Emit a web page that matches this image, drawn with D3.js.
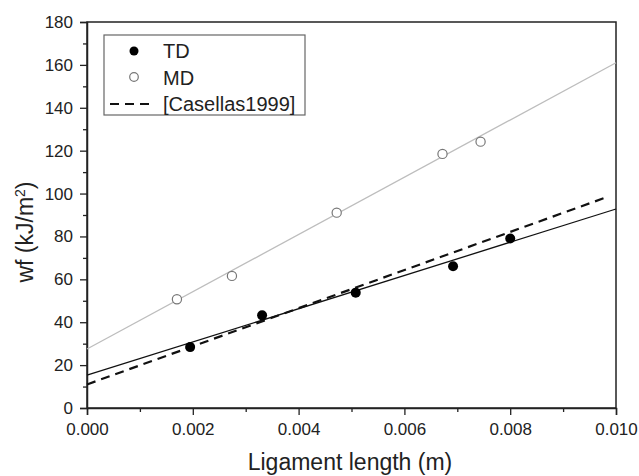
<!DOCTYPE html>
<html>
<head>
<meta charset="utf-8">
<script src="https://cdn.jsdelivr.net/npm/d3@7"></script>
<style>
  body { margin: 0; background: #fff; }
  text { font-family: "Liberation Sans", Arial, sans-serif; fill: #222; }
</style>
</head>
<body>
<div id="chart"></div>
<script>
const tdX = [0.00195, 0.00331, 0.00508, 0.00692, 0.00800];
const tdY = [28.4, 43.2, 53.8, 66.1, 79.0];
const mdX = [0.00170, 0.00274, 0.00472, 0.00672, 0.00744];
const mdY = [50.7, 61.6, 91.1, 118.5, 124.2];

// Fit lines (end points)
const fitTD = [[0, 15.3], [0.010, 92.8]];
const fitMD = [[0, 27.5], [0.010, 161.0]];
const casellas = [[0, 11.0], [0.0098, 98.1]];

const xTicks = [0, 0.002, 0.004, 0.006, 0.008, 0.010];
const yTicks = [0, 20, 40, 60, 80, 100, 120, 140, 160, 180];

const W = 639, H = 476;
const mLeft = 87, mRight = 616, mTop = 22, mBottom = 408;

var svg = d3.select('#chart').append('svg')
    .attr('width', W)
    .attr('height', H);

var x = d3.scaleLinear().domain([0, 0.010]).range([mLeft, mRight]);
var y = d3.scaleLinear().domain([0, 180]).range([mBottom, mTop]);

// Frame (top and right sides)
svg.append('rect')
    .attr('x', mLeft).attr('y', mTop)
    .attr('width', mRight - mLeft).attr('height', mBottom - mTop)
    .attr('fill', 'none')
    .attr('stroke', '#222')
    .attr('stroke-width', 1.5);

// Minor ticks
var xMinor = d3.range(0.001, 0.010, 0.002);
var yMinor = d3.range(10, 180, 20);

svg.append('g')
    .attr('transform', 'translate(0,' + mBottom + ')')
    .call(d3.axisBottom(x).tickValues(xTicks).tickFormat(d3.format('.3f')).tickSize(7).tickPadding(8));
svg.append('g')
    .attr('transform', 'translate(0,' + mBottom + ')')
    .call(d3.axisBottom(x).tickValues(xMinor).tickFormat('').tickSize(4))
    .select('.domain').remove();

svg.append('g')
    .attr('transform', 'translate(' + mLeft + ',0)')
    .call(d3.axisLeft(y).tickValues(yTicks).tickSize(7).tickPadding(7));
svg.append('g')
    .attr('transform', 'translate(' + mLeft + ',0)')
    .call(d3.axisLeft(y).tickValues(yMinor).tickFormat('').tickSize(4))
    .select('.domain').remove();

svg.selectAll('.domain').attr('stroke', '#222').attr('stroke-width', 1.5);
svg.selectAll('.tick line').attr('stroke', '#222').attr('stroke-width', 1.3);
svg.selectAll('.tick text').style('font-size', '17px').attr('fill', '#222');

// Axis titles
svg.append('text')
    .attr('x', 350)
    .attr('y', 470)
    .attr('text-anchor', 'middle')
    .style('font-size', '23px')
    .text('Ligament length (m)');

svg.append('text')
    .attr('transform', 'translate(33,232) rotate(-90)')
    .attr('text-anchor', 'middle')
    .style('font-size', '23px')
    .html('wf (kJ/m<tspan dy="-8" style="font-size:14px">2</tspan><tspan dy="8">)</tspan>');

// Lines
var line = d3.line()
    .x(function(d) { return x(d[0]); })
    .y(function(d) { return y(d[1]); });

svg.append('path').datum(fitMD)
    .attr('d', line)
    .attr('fill', 'none')
    .attr('stroke', '#bdbdbd')
    .attr('stroke-width', 1.3);

svg.append('path').datum(fitTD)
    .attr('d', line)
    .attr('fill', 'none')
    .attr('stroke', '#111')
    .attr('stroke-width', 1.3);

svg.append('path').datum(casellas)
    .attr('d', line)
    .attr('fill', 'none')
    .attr('stroke', '#111')
    .attr('stroke-width', 2.2)
    .attr('stroke-dasharray', '9,6');

// Points
svg.selectAll('.md')
    .data(d3.zip(mdX, mdY))
    .enter()
    .append('circle')
    .attr('class', 'md')
    .attr('cx', function(d) { return x(d[0]); })
    .attr('cy', function(d) { return y(d[1]); })
    .attr('r', 4.6)
    .attr('fill', '#fff')
    .attr('stroke', '#777')
    .attr('stroke-width', 1.2);

svg.selectAll('.td')
    .data(d3.zip(tdX, tdY))
    .enter()
    .append('circle')
    .attr('class', 'td')
    .attr('cx', function(d) { return x(d[0]); })
    .attr('cy', function(d) { return y(d[1]); })
    .attr('r', 5)
    .attr('fill', '#000');

// Legend
var lg = svg.append('g');
lg.append('rect')
    .attr('x', 104).attr('y', 35)
    .attr('width', 201).attr('height', 80)
    .attr('fill', '#fff')
    .attr('stroke', '#666')
    .attr('stroke-width', 1.2);

lg.append('circle').attr('cx', 134).attr('cy', 51).attr('r', 4.5).attr('fill', '#000');
lg.append('circle').attr('cx', 134).attr('cy', 77).attr('r', 4.3)
    .attr('fill', '#fff').attr('stroke', '#777').attr('stroke-width', 1.2);
lg.append('line')
    .attr('x1', 110).attr('x2', 153).attr('y1', 104).attr('y2', 104)
    .attr('stroke', '#111').attr('stroke-width', 2.2).attr('stroke-dasharray', '9,6');

var labels = ['TD', 'MD', '[Casellas1999]'];
lg.selectAll('.lbl')
    .data(labels)
    .enter()
    .append('text')
    .attr('x', 163)
    .attr('y', function(d, i) { return 58 + i * 26.5; })
    .style('font-size', '20px')
    .text(function(d) { return d; });
</script>
</body>
</html>
